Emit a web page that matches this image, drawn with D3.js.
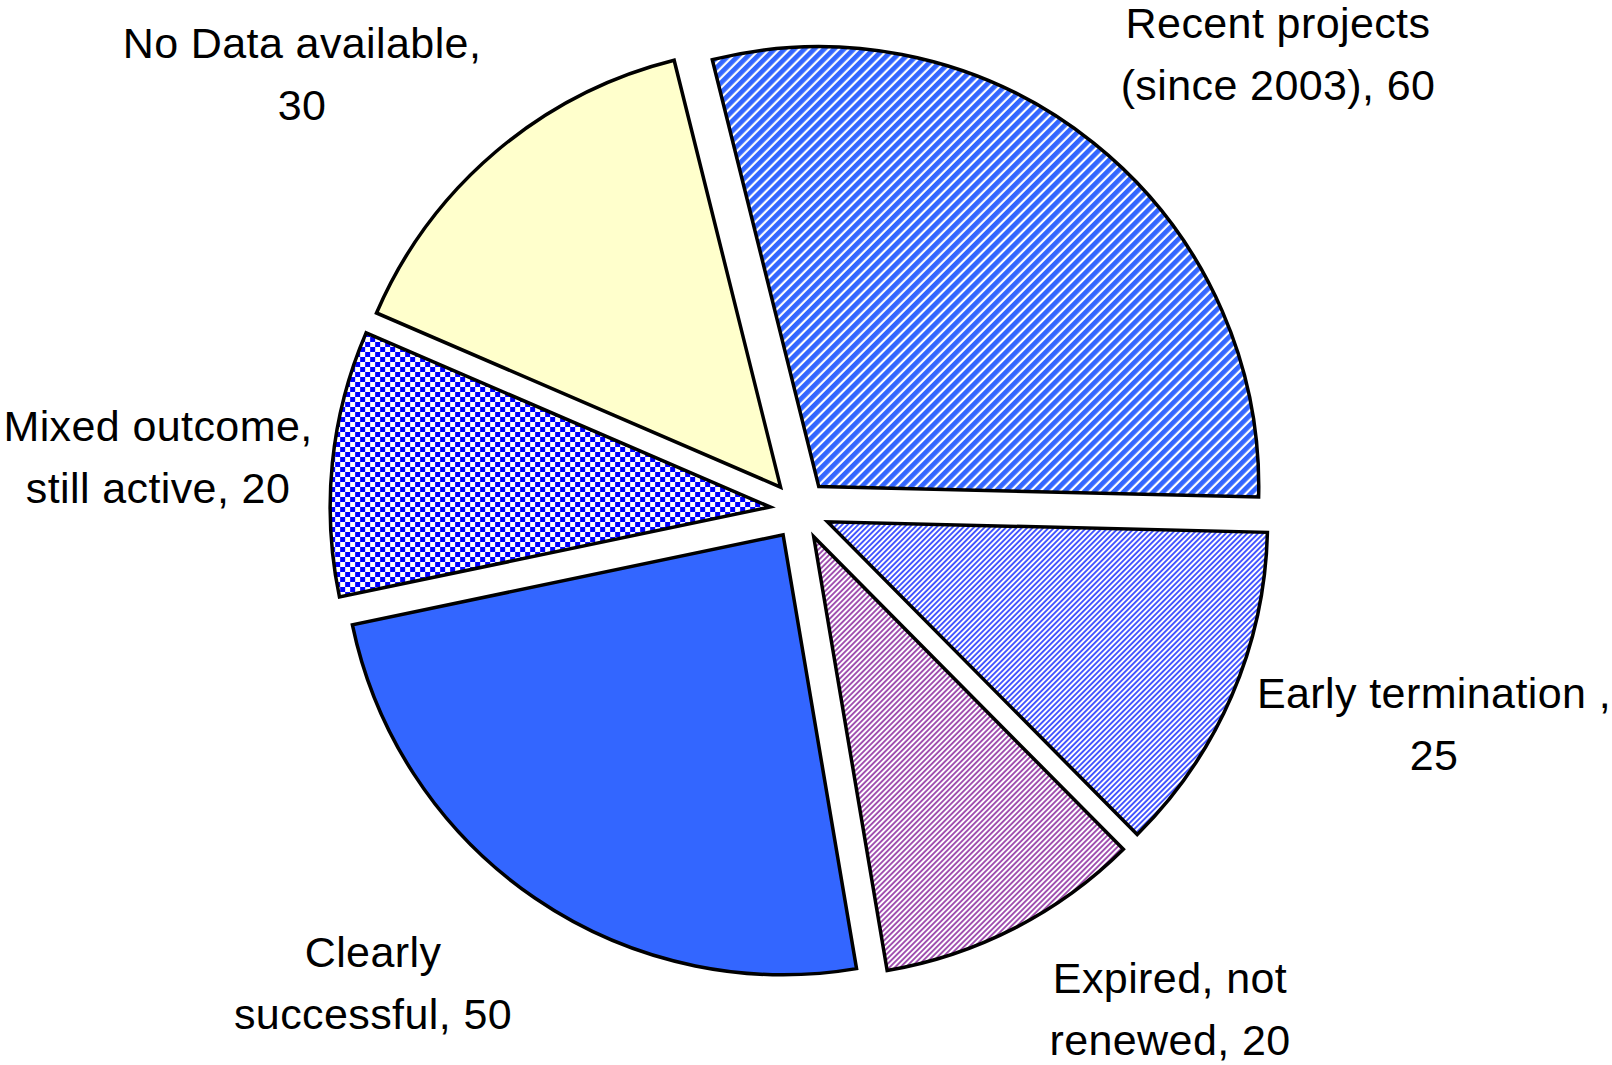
<!DOCTYPE html>
<html>
<head>
<meta charset="utf-8">
<script src="https://cdn.jsdelivr.net/npm/d3@7"></script>
<style>
  body { margin: 0; background: #fff; }
  text { font-family: "Liberation Sans", Arial, sans-serif; font-size: 43px; fill: #000; letter-spacing: 0.4px; }
</style>
</head>
<body>
<svg id="chart" width="1612" height="1065"></svg>
<script>
// slice data, clockwise from the top
const categories = ["Recent projects (since 2003)", "Early termination", "Expired, not renewed",
                    "Clearly successful", "Mixed outcome, still active", "No Data available"];
const values = [60, 25, 20, 50, 20, 30];
const labelLines = [
    ["Recent projects", "(since 2003), 60"],
    ["Early termination ,", "25"],
    ["Expired, not", "renewed, 20"],
    ["Clearly", "successful, 50"],
    ["Mixed outcome,", "still active, 20"],
    ["No Data available,", "30"]
];
const fills = ["url(#pRecent)", "url(#pEarly)", "url(#pExpired)", "#3366ff", "url(#pMixed)", "#ffffcc"];
// label centre x and first baseline y
const labelPos = [[1278, 38], [1434, 708], [1170, 993], [373, 967], [158, 441], [302, 58]];
const lineGap = 62;

const svg = d3.select("#chart");
const cx = 800, cy = 510, radius = 440, explode = 30;

const defs = svg.append("defs");

// wide blue stripes
const p1 = defs.append("pattern").attr("id", "pRecent").attr("patternUnits", "userSpaceOnUse")
    .attr("width", 7).attr("height", 7).attr("patternTransform", "rotate(45)");
p1.append("rect").attr("width", 7).attr("height", 7).attr("fill", "#ffffff");
p1.append("rect").attr("width", 4.8).attr("height", 7).attr("fill", "#3366ff");

// thin blue stripes
const p2 = defs.append("pattern").attr("id", "pEarly").attr("patternUnits", "userSpaceOnUse")
    .attr("width", 3.8).attr("height", 3.8).attr("patternTransform", "rotate(45)");
p2.append("rect").attr("width", 3.8).attr("height", 3.8).attr("fill", "#ffffff");
p2.append("rect").attr("width", 1.9).attr("height", 3.8).attr("fill", "#4455ff");

// thin purple stripes
const p3 = defs.append("pattern").attr("id", "pExpired").attr("patternUnits", "userSpaceOnUse")
    .attr("width", 3.8).attr("height", 3.8).attr("patternTransform", "rotate(45)");
p3.append("rect").attr("width", 3.8).attr("height", 3.8).attr("fill", "#ffffff");
p3.append("rect").attr("width", 1.9).attr("height", 3.8).attr("fill", "#a050b0");

// checkerboard
const p4 = defs.append("pattern").attr("id", "pMixed").attr("patternUnits", "userSpaceOnUse")
    .attr("width", 10).attr("height", 10);
p4.append("rect").attr("width", 10).attr("height", 10).attr("fill", "#ffffff");
p4.append("rect").attr("width", 5).attr("height", 5).attr("fill", "#0000ff");
p4.append("rect").attr("x", 5).attr("y", 5).attr("width", 5).attr("height", 5).attr("fill", "#0000ff");

const offset = -14 * Math.PI / 180;
const pie = d3.pie().sort(null).value(d => d)
    .startAngle(offset).endAngle(offset + 2 * Math.PI);
const arc = d3.arc().innerRadius(0).outerRadius(radius);

const arcs = pie(values);

svg.append("g")
    .attr("transform", `translate(${cx},${cy})`)
    .selectAll("path")
    .data(arcs)
    .enter().append("path")
    .attr("transform", d => {
        const mid = (d.startAngle + d.endAngle) / 2;
        return `translate(${explode * Math.sin(mid)},${-explode * Math.cos(mid)})`;
    })
    .attr("d", arc)
    .attr("fill", (d, i) => fills[i])
    .attr("stroke", "#000")
    .attr("stroke-width", 3.5)
    .attr("stroke-linejoin", "miter");

const labels = svg.append("g").selectAll("text")
    .data(labelLines)
    .enter().append("text")
    .attr("text-anchor", "middle");

labels.selectAll("tspan")
    .data((d, i) => d.map((s, j) => ({ s, i, j })))
    .enter().append("tspan")
    .attr("x", d => labelPos[d.i][0])
    .attr("y", d => labelPos[d.i][1] + d.j * lineGap)
    .text(d => d.s);
</script>
</body>
</html>
